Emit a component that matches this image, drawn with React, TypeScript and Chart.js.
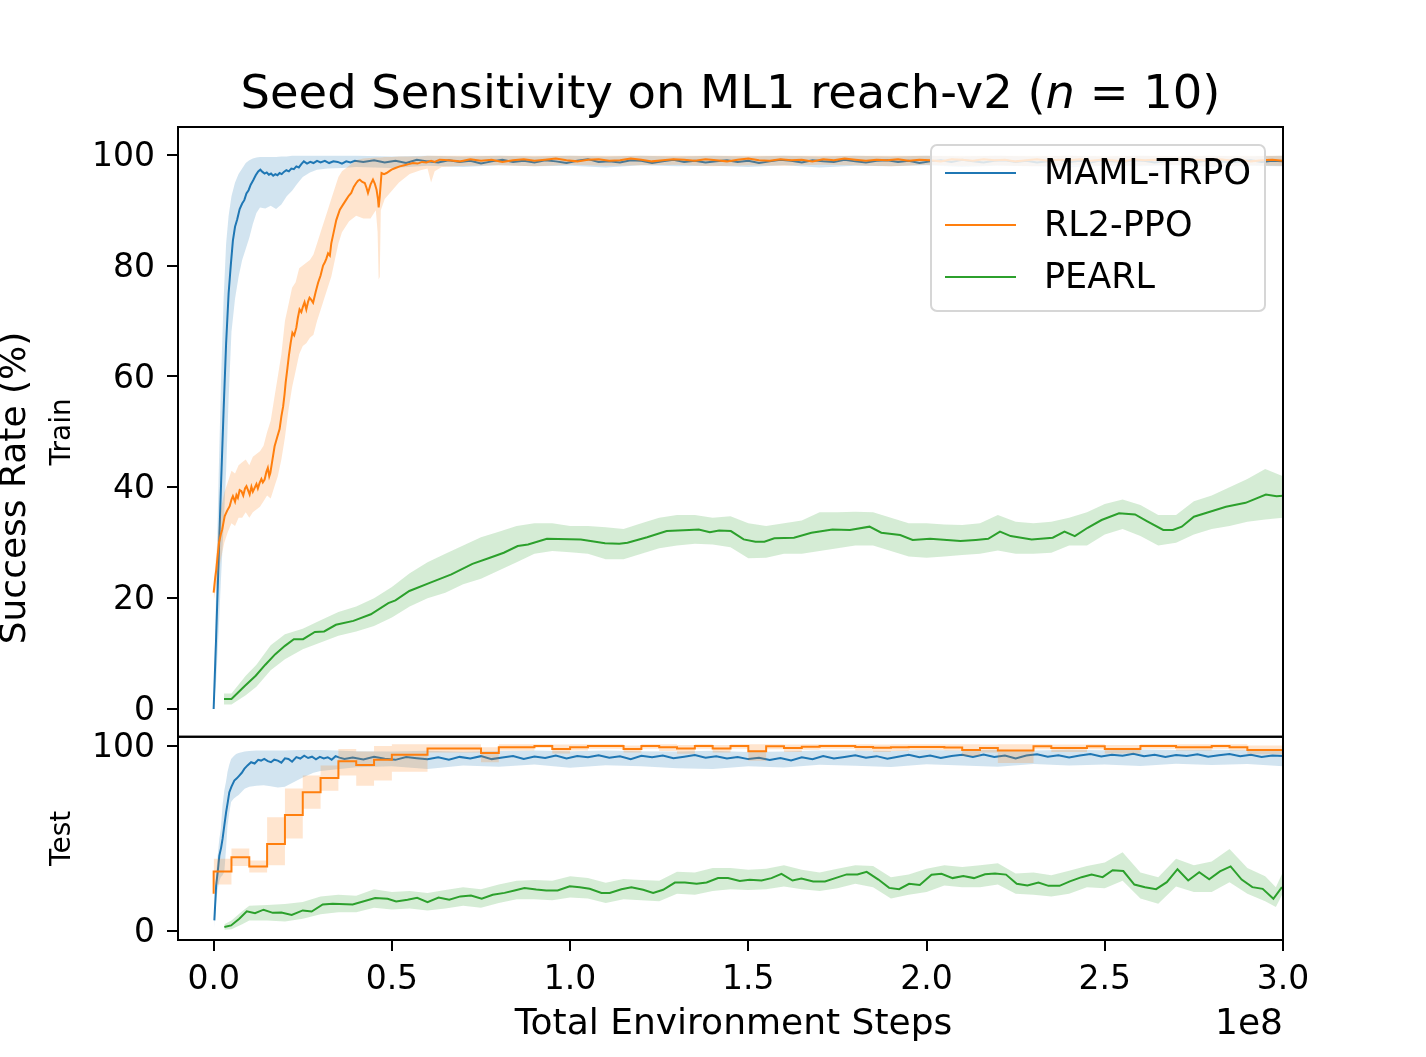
import React, { useEffect, useRef } from 'react';
import { Chart, registerables } from 'chart.js';

Chart.register(...registerables);

// ---------------- text ----------------
const TITLE_PREFIX = 'Seed Sensitivity on ML1 reach-v2 (';
const TITLE_VAR = 'n';
const TITLE_SUFFIX = ' = 10)';
const Y_LABEL = 'Success Rate (%)';
const TRAIN_LABEL = 'Train';
const TEST_LABEL = 'Test';
const X_LABEL = 'Total Environment Steps';
const X_OFFSET_LABEL = '1e8';
const SERIES_NAMES = ['MAML-TRPO', 'RL2-PPO', 'PEARL'];

// ---------------- ticks ----------------
const X_TICKS = [0, 0.5, 1.0, 1.5, 2.0, 2.5, 3.0];
const TRAIN_Y_TICKS = [0, 20, 40, 60, 80, 100];
const TEST_Y_TICKS = [0, 100];

// ---------------- shared tail steps (x in units of 1e8) ----------------
const TAIL_X = [
  0.66, 0.69, 0.72, 0.75, 0.78, 0.81, 0.84, 0.87, 0.90, 0.93,
  0.96, 0.99, 1.02, 1.05, 1.08, 1.11, 1.14, 1.17, 1.20, 1.23,
  1.26, 1.29, 1.32, 1.35, 1.38, 1.41, 1.44, 1.47, 1.50, 1.53,
  1.56, 1.59, 1.62, 1.65, 1.68, 1.71, 1.74, 1.77, 1.80, 1.83,
  1.86, 1.89, 1.92, 1.95, 1.98, 2.01, 2.04, 2.07, 2.10, 2.13,
  2.16, 2.19, 2.22, 2.25, 2.28, 2.31, 2.34, 2.37, 2.40, 2.43,
  2.46, 2.49, 2.52, 2.55, 2.58, 2.61, 2.64, 2.67, 2.70, 2.73,
  2.76, 2.79, 2.82, 2.85, 2.88, 2.91, 2.94, 2.97, 3.00,
];

// ---------------- MAML-TRPO train ----------------
const MAML_TRAIN_HEAD_X = [
  0, 0.007, 0.014, 0.021, 0.028, 0.035, 0.042, 0.048, 0.054, 0.060,
  0.066, 0.073, 0.080, 0.086, 0.092, 0.098, 0.104, 0.111, 0.118, 0.125,
  0.131, 0.137, 0.143, 0.149, 0.155, 0.161, 0.167, 0.173, 0.179, 0.185,
  0.191, 0.197, 0.204, 0.211, 0.218, 0.225, 0.232, 0.239, 0.246, 0.253,
  0.262, 0.271, 0.280, 0.290, 0.300, 0.312, 0.324, 0.336, 0.348, 0.360,
  0.372, 0.384, 0.396, 0.42, 0.45, 0.48, 0.51, 0.54, 0.57, 0.60, 0.63,
];
const MAML_TRAIN_HEAD = [
  0, 13, 27, 41, 54, 66, 75, 80, 84.5, 87,
  88.3, 90.2, 91.2, 91.8, 93.0, 93.6, 94.6, 95.4, 96.3, 97.0,
  97.3, 96.9, 96.6, 96.8, 96.4, 96.6, 96.2, 96.5, 96.3, 96.7,
  96.5, 96.9, 97.2, 97.0, 97.5, 97.4, 97.9, 97.7, 98.3, 98.8,
  98.4, 98.7, 98.5, 98.9, 98.6, 98.9, 98.5, 98.8, 98.7, 98.4,
  98.8, 98.6, 98.9, 98.7, 99.0, 98.6, 98.9, 98.5, 99.1, 98.8, 98.6,
];
const MAML_TRAIN_TAIL = [
  99.0, 98.7,
  98.9, 98.4, 98.8, 99.1, 98.7, 98.9, 98.6, 99.0, 98.8, 98.5,
  98.9, 99.2, 98.7, 98.8, 98.6, 99.0, 98.9, 98.5, 98.8, 99.1,
  98.7, 98.9, 98.6, 98.8, 99.0, 98.7, 98.9, 98.5, 98.8, 99.1,
  98.9, 98.6, 99.0, 98.8, 98.7, 99.1, 98.8, 98.6, 98.9, 99.0,
  98.7, 98.9, 98.5, 98.8, 99.0, 98.7, 99.1, 98.8, 98.6, 98.9,
  99.0, 98.7, 98.9, 98.6, 98.8, 99.1, 98.7, 98.9, 98.6, 99.0,
  98.8, 98.7, 99.0, 98.9, 98.6, 98.8, 99.1, 98.8, 98.7, 99.0,
  98.9, 98.6, 98.8, 99.0, 98.7, 98.9, 98.8,
];
const MAML_TRAIN_BAND_X = [
  0, 0.007, 0.014, 0.021, 0.028, 0.035, 0.042, 0.05, 0.06, 0.07,
  0.08, 0.09, 0.10, 0.11, 0.12, 0.13, 0.145, 0.16, 0.175, 0.19,
  0.205, 0.22, 0.235, 0.25, 0.27, 0.29, 0.32, 0.36, 0.40, 0.5,
  0.6, 0.7, 0.8, 0.9, 1.0, 1.1, 1.2, 1.3, 1.4, 1.5,
  1.6, 1.7, 1.8, 1.9, 2.0, 2.1, 2.2, 2.3, 2.4, 2.5,
  2.6, 2.7, 2.8, 2.9, 3.0,
];
const MAML_TRAIN_LO = [
  0, 5, 14, 24, 33, 43, 56, 68, 74, 78,
  81, 83, 85, 87.5, 89.5, 90.5, 90.3, 90.8, 90.2, 91.0,
  92.5, 93.5, 94.8, 96.0, 96.8, 97.3, 97.5, 97.6, 97.8, 97.6,
  98.0, 97.8, 98.1, 97.9, 98.0, 97.7, 98.1, 97.9, 98.0, 97.8,
  98.1, 97.7, 98.0, 97.9, 98.1, 97.8, 98.0, 97.9, 97.7, 98.0,
  97.9, 98.1, 97.8, 98.0, 97.9,
];
const MAML_TRAIN_HI = [
  0, 22, 42, 60, 74, 84, 89, 92.5, 95, 96.5,
  97.5, 98.5, 99, 99.3, 99.5, 99.6, 99.6, 99.6, 99.6, 99.7,
  99.7, 99.8, 99.8, 99.8, 99.8, 99.8, 99.8, 99.8, 99.8, 99.7,
  99.8, 99.7, 99.8, 99.7, 99.8, 99.7, 99.8, 99.7, 99.8, 99.7,
  99.8, 99.7, 99.8, 99.7, 99.8, 99.7, 99.8, 99.7, 99.8, 99.7,
  99.8, 99.7, 99.8, 99.7, 99.8,
];

// ---------------- RL2-PPO train ----------------
const RL2_TRAIN_HEAD_X = [
  0, 0.004, 0.0075, 0.011, 0.015, 0.02, 0.024, 0.031, 0.038, 0.045,
  0.05, 0.054, 0.06, 0.064, 0.068, 0.073, 0.078, 0.083, 0.088, 0.092,
  0.097, 0.101, 0.106, 0.11, 0.115, 0.12, 0.124, 0.129, 0.134, 0.138,
  0.143, 0.148, 0.152, 0.156, 0.159, 0.165, 0.171, 0.178, 0.185, 0.19,
  0.195, 0.199, 0.202, 0.207, 0.211, 0.216, 0.221, 0.226, 0.232, 0.236,
  0.241, 0.246, 0.251, 0.255, 0.26, 0.265, 0.269, 0.274, 0.279, 0.286,
  0.293, 0.3, 0.307, 0.312, 0.316, 0.321, 0.326, 0.33, 0.335, 0.344,
  0.354, 0.363, 0.372, 0.379, 0.386, 0.393, 0.4, 0.405, 0.41, 0.417,
  0.424, 0.429, 0.433, 0.44, 0.447, 0.452, 0.457, 0.461, 0.463, 0.466,
  0.471, 0.478, 0.485, 0.492, 0.499, 0.51, 0.522, 0.535, 0.547, 0.559,
  0.572, 0.585, 0.597, 0.61, 0.62, 0.634,
];
const RL2_TRAIN_HEAD = [
  21.0, 23.5, 25.2, 27.5, 30.0, 31.5, 32.4, 34.8, 35.8, 36.6,
  37.8, 38.4, 37.4, 38.6, 38.1, 39.5, 39.3, 38.5, 39.8, 40.2,
  39.4, 38.7, 40.1, 39.2, 39.9, 40.6, 39.8, 40.8, 41.5, 40.9,
  41.4, 42.8, 43.5, 42.0, 42.6, 45.0, 47.4, 49.0, 50.5, 52.8,
  54.6, 56.8, 58.9, 61.5, 63.7, 66.0, 67.9, 67.4, 68.8, 70.5,
  72.1, 71.6, 72.7, 73.4, 72.1, 73.5, 74.2, 73.8, 73.3, 75.2,
  76.9, 78.2, 80.0, 80.6, 81.2, 82.2, 81.8, 84.0, 85.5, 88.2,
  90.1, 91.0, 91.9, 92.6, 93.1, 94.2, 94.9, 95.3, 95.5, 95.1,
  94.9, 94.0, 93.1, 94.6, 95.5, 94.8, 93.7, 92.0, 90.5, 92.5,
  96.7, 96.5, 96.7, 97.0, 97.3, 97.6, 97.9, 98.1, 98.3, 98.5,
  98.4, 98.7, 98.6, 98.9, 98.7, 99.1,
];
const RL2_TRAIN_TAIL = [
  99.0, 98.8, 99.2, 98.9, 99.1, 98.7, 99.0, 99.2, 98.9, 99.1,
  99.3, 99.0, 98.8, 99.1, 99.2, 98.9, 99.0, 99.3, 99.1, 98.8,
  99.0, 99.2, 99.1, 98.9, 99.2, 99.0, 98.8, 99.1, 99.3, 99.0,
  98.9, 99.2, 99.0, 99.1, 98.8, 99.2, 99.0, 99.3, 99.1, 98.9,
  99.1, 99.0, 99.2, 98.9, 99.1, 99.0, 98.8, 99.2, 99.1, 98.9,
  99.2, 99.0, 99.1, 98.8, 99.0, 99.2, 98.9, 99.1, 99.0, 99.2,
  98.9, 99.1, 99.0, 98.8, 99.2, 99.0, 99.1, 98.9, 99.2, 99.0,
  99.1, 98.9, 99.2, 99.0, 99.1, 98.8, 99.0, 99.1, 98.9,
];
const RL2_TRAIN_BAND_X = [
  0, 0.01, 0.02, 0.03, 0.04, 0.05, 0.06, 0.07, 0.08, 0.09,
  0.10, 0.11, 0.12, 0.13, 0.14, 0.15, 0.16, 0.17, 0.18, 0.19,
  0.20, 0.21, 0.22, 0.23, 0.24, 0.25, 0.26, 0.27, 0.28, 0.29,
  0.30, 0.31, 0.32, 0.33, 0.34, 0.35, 0.36, 0.38, 0.40, 0.42,
  0.44, 0.455, 0.46, 0.463, 0.466, 0.469, 0.48, 0.50, 0.52, 0.55,
  0.58, 0.60, 0.61, 0.62, 0.64, 0.7, 0.8, 0.9, 1.0, 1.1,
  1.2, 1.3, 1.4, 1.5, 1.6, 1.7, 1.8, 1.9, 2.0, 2.1,
  2.2, 2.3, 2.4, 2.5, 2.6, 2.7, 2.8, 2.9, 3.0,
];
const RL2_TRAIN_LO = [
  19.5, 23, 27, 30, 32, 33.5, 33, 34.5, 34.5, 35.5,
  34.5, 35.5, 36, 36.5, 37.5, 38.5, 38, 40, 42, 45,
  49, 54, 58, 61, 64, 65.5, 66, 67, 67.5, 70,
  72, 74, 76, 78, 81, 84, 86, 88, 89, 88.5,
  88.5, 90, 86, 77.5, 78, 90, 92, 93.5, 95, 96.5,
  97.2, 97.5, 95.0, 97.0, 97.8, 98.0, 98.1, 97.9, 98.2, 98.0,
  98.1, 98.2, 97.9, 98.1, 98.0, 98.2, 98.1, 97.9, 98.2, 98.0,
  98.1, 97.9, 98.2, 98.0, 98.1, 98.2, 97.9, 98.1, 98.0,
];
const RL2_TRAIN_HI = [
  22.5, 30, 36, 39, 41, 43, 42.5, 44, 44.5, 45,
  44, 45.5, 46, 46.5, 47.5, 50, 52, 56, 60, 64,
  70, 73, 76, 77, 79.5, 80, 80.5, 81, 82, 84,
  86, 88, 90, 92, 94, 96, 97, 98, 99, 99.3,
  99.4, 99.5, 99.5, 99.5, 99.5, 99.5, 99.6, 99.6, 99.7, 99.7,
  99.7, 99.8, 99.8, 99.8, 99.8, 99.8, 99.8, 99.8, 99.8, 99.8,
  99.8, 99.8, 99.8, 99.8, 99.8, 99.8, 99.8, 99.8, 99.8, 99.8,
  99.8, 99.8, 99.8, 99.8, 99.8, 99.8, 99.8, 99.8, 99.8,
];

// ---------------- PEARL train ----------------
const PEARL_TRAIN_X = [
  0.029, 0.05, 0.088, 0.118, 0.145, 0.173, 0.2, 0.225, 0.251, 0.284,
  0.31, 0.343, 0.392, 0.441, 0.49, 0.51, 0.549, 0.608, 0.667, 0.726,
  0.775, 0.814, 0.853, 0.882, 0.935, 1.03, 1.098, 1.138, 1.161, 1.216,
  1.271, 1.334, 1.361, 1.392, 1.418, 1.451, 1.487, 1.52, 1.545, 1.573,
  1.628, 1.677, 1.736, 1.785, 1.84, 1.873, 1.926, 1.961, 2.01, 2.095,
  2.138, 2.173, 2.206, 2.236, 2.295, 2.354, 2.387, 2.416, 2.452, 2.491,
  2.54, 2.585, 2.618, 2.664, 2.691, 2.716, 2.75, 2.795, 2.84, 2.895,
  2.952, 2.982, 3.0,
];
const PEARL_TRAIN = [
  1.8, 1.8, 4.2, 6.0, 8.0, 9.9, 11.4, 12.6, 12.6, 13.9,
  14.0, 15.2, 15.9, 17.1, 19.1, 19.6, 21.3, 22.8, 24.3, 26.2,
  27.3, 28.2, 29.4, 29.7, 30.7, 30.6, 29.9, 29.8, 30.0, 31.0,
  32.1, 32.3, 32.4, 31.9, 32.2, 32.1, 30.6, 30.2, 30.2, 30.8,
  30.9, 31.8, 32.4, 32.3, 32.9, 31.8, 31.4, 30.5, 30.7, 30.3,
  30.5, 30.7, 32.0, 31.2, 30.6, 30.9, 32.0, 31.2, 32.7, 34.1,
  35.3, 35.1, 33.9, 32.3, 32.3, 32.9, 34.7, 35.6, 36.5, 37.2,
  38.7, 38.4, 38.5,
];
const PEARL_TRAIN_BAND_X = [
  0.029, 0.05, 0.09, 0.12, 0.16, 0.2, 0.25, 0.3, 0.35, 0.4,
  0.45, 0.5, 0.55, 0.6, 0.65, 0.7, 0.75, 0.8, 0.85, 0.9,
  0.95, 1.0, 1.05, 1.1, 1.15, 1.2, 1.25, 1.3, 1.35, 1.4,
  1.45, 1.5, 1.55, 1.6, 1.65, 1.7, 1.75, 1.8, 1.85, 1.9,
  1.95, 2.0, 2.05, 2.1, 2.15, 2.2, 2.25, 2.3, 2.35, 2.4,
  2.45, 2.5, 2.55, 2.6, 2.65, 2.7, 2.75, 2.8, 2.85, 2.9,
  2.95, 3.0,
];
const PEARL_TRAIN_LO = [
  0.8, 0.8, 2.5, 4, 7, 9, 10.8, 12, 13.2, 14,
  15, 16.5, 18.5, 20, 21, 22.5, 23.5, 25, 26.5, 28,
  28.5, 28.3, 28, 27, 27, 28, 29, 29.5, 29.8, 29.7,
  29.2, 27.2, 27.3, 28, 28, 28.5, 29, 29.5, 29.5, 28.5,
  27.5, 27.3, 27.5, 27.8, 28, 28.6, 28, 28, 28.2, 29.5,
  29.5, 31.5, 32.5, 31.2, 29.5, 30, 31.5, 32.5, 33, 33.8,
  34.2, 34.5,
];
const PEARL_TRAIN_HI = [
  2.8, 2.8, 6, 8, 11.5, 13.5, 14.5, 16, 17.5, 18.5,
  20, 22, 24.5, 26.5, 28, 29.5, 31, 32, 33, 33.5,
  33.5, 33, 33, 32.8, 32.5, 33.5, 34.5, 35, 35, 34.5,
  34.8, 33.5, 33, 33.5, 34, 35.5, 35.5, 35.6, 35.5, 34.5,
  33.5, 33.5, 33.3, 33.2, 33.5, 35, 33.8, 33.5, 33.8, 34.5,
  35.5, 37, 37.8, 36.8, 35, 35, 37.5, 38.5, 40, 41.5,
  43.3, 42,
];

// ---------------- MAML-TRPO test ----------------
const MAML_TEST_HEAD_X = [
  0.002, 0.007, 0.012, 0.016, 0.021, 0.025, 0.03, 0.035, 0.04, 0.044,
  0.05, 0.058, 0.065, 0.072, 0.079, 0.086, 0.095, 0.105, 0.115, 0.125,
  0.133, 0.142, 0.152, 0.161, 0.17, 0.18, 0.19, 0.2, 0.21, 0.22,
  0.232, 0.243, 0.254, 0.265, 0.276, 0.287, 0.298, 0.309, 0.32, 0.331,
  0.342, 0.353, 0.367, 0.39, 0.42, 0.45, 0.48, 0.51, 0.54, 0.57,
  0.6, 0.63,
];
const MAML_TEST_HEAD = [
  5.6, 24.5, 33, 40.7, 45, 49.7, 57, 64.2, 70, 75,
  78, 81.3, 82.5, 84, 85.5, 87.6, 89.5, 91.2, 90.5, 92.5,
  92.1, 93, 91.8, 91.2, 92.6, 92.1, 91, 93.3, 93, 91.5,
  94, 93.2, 94.8, 93.5, 94.2, 92.8, 94.1, 93.3, 93.9, 92.6,
  94.5, 93.7, 93, 93.8, 92.7, 94.2, 93.1, 92.5, 94.0, 93.4,
  92.8, 93.9,
];
const MAML_TEST_TAIL = [
  92.6, 94.1, 93.2, 94.5, 92.9, 93.8, 94.6, 93.0, 94.3, 93.5,
  94.8, 93.3, 94.6, 93.9, 95.0, 93.6, 94.4, 92.8, 94.7, 93.9,
  94.9, 93.4, 94.2, 95.1, 93.7, 94.5, 93.2, 94.0, 92.9, 93.6,
  92.4, 93.5, 92.2, 93.9, 92.8, 94.6, 93.3, 94.1, 95.0, 93.6,
  94.5, 93.1, 94.2, 95.3, 93.9, 94.8, 93.5, 94.6, 95.2, 94.0,
  95.4, 94.1, 94.9, 93.3, 94.8, 95.5, 94.2, 95.0, 93.8, 94.9,
  95.6, 94.3, 95.2, 94.7, 95.8, 94.4, 95.3, 94.0, 95.1, 94.6,
  95.5, 94.2, 95.0, 95.7, 94.5, 95.3, 94.1, 94.9, 94.6,
];
const MAML_TEST_BAND_X = [
  0.002, 0.007, 0.011, 0.016, 0.02, 0.025, 0.03, 0.035, 0.039, 0.044,
  0.049, 0.056, 0.063, 0.07, 0.087, 0.1, 0.12, 0.14, 0.16, 0.18,
  0.2, 0.22, 0.25, 0.28, 0.3, 0.4, 0.5, 0.6, 0.7, 0.8,
  0.9, 1.0, 1.1, 1.2, 1.3, 1.4, 1.5, 1.6, 1.7, 1.8,
  1.9, 2.0, 2.1, 2.2, 2.3, 2.4, 2.5, 2.6, 2.7, 2.8,
  2.9, 3.0,
];
const MAML_TEST_LO = [
  2, 15, 22, 27, 29, 30, 32, 45, 57, 64,
  69.7, 71.5, 72.5, 73.5, 76.8, 78, 78.5, 78.8, 78.2, 77.5,
  78, 80, 83, 85.5, 86.5, 88.5, 89.0, 87.5, 89.5, 88.8,
  90.0, 88.2, 89.6, 89.1, 88.0, 87.6, 89.0, 88.4, 89.8, 89.3,
  88.6, 90.1, 89.4, 88.8, 90.3, 89.5, 90.0, 89.2, 90.4, 89.7,
  90.2, 89.0,
];
const MAML_TEST_HI = [
  9, 30, 40, 50, 55, 68, 76, 81, 86, 90,
  93, 94.5, 95.7, 96.2, 97, 97.3, 97.5, 97.5, 97.6, 97.6,
  97.6, 97.7, 97.8, 97.8, 97.8, 97.2, 97.0, 97.4, 96.9, 97.3,
  97.5, 97.1, 97.6, 97.2, 97.0, 97.4, 96.8, 97.0, 97.5, 97.6,
  97.3, 97.8, 97.5, 97.9, 97.6, 98.0, 97.7, 98.1, 97.8, 98.0,
  97.7, 97.9,
];

// ---------------- RL2-PPO test (evaluated every 5e6 steps) ----------------
const RL2_TEST_X = [
  0, 0.05, 0.1, 0.15, 0.2, 0.25, 0.3, 0.35, 0.4, 0.45,
  0.5, 0.55, 0.6, 0.65, 0.7, 0.75, 0.8, 0.85, 0.9, 0.95,
  1.0, 1.05, 1.1, 1.15, 1.2, 1.25, 1.3, 1.35, 1.4, 1.45,
  1.5, 1.55, 1.6, 1.65, 1.7, 1.75, 1.8, 1.85, 1.9, 1.95,
  2.0, 2.05, 2.1, 2.15, 2.2, 2.25, 2.3, 2.35, 2.4, 2.45,
  2.5, 2.55, 2.6, 2.65, 2.7, 2.75, 2.8, 2.85, 2.9, 2.95,
  3.0,
];
const RL2_TEST = [
  20.0, 32.1, 39.8, 34.8, 47.0, 62.7, 75.0, 82.7, 91.7, 89.7,
  92.6, 95.3, 95.3, 98.7, 98.7, 98.7, 96.2, 99.3, 99.3, 100,
  98.4, 99.3, 100, 100, 98.4, 100, 99.3, 98.6, 100, 98.7,
  100, 97.1, 99.8, 98.9, 99.6, 100, 100, 99.5, 99.0, 99.3,
  99.5, 99.5, 99.2, 97.8, 98.9, 97.5, 97.5, 99.8, 98.9, 98.9,
  99.8, 98.4, 98.4, 100, 100, 99.3, 99.3, 100, 99.3, 97.8,
  97.8,
];
const RL2_TEST_LO = [
  17, 25, 35, 31.5, 35.5, 50, 66, 75.8, 84, 78.5,
  81.3, 86, 86, 96.5, 96.5, 96.5, 91.2, 97.5, 97.5, 99,
  96, 97.5, 98.5, 98.5, 96.5, 98.5, 97.3, 95.8, 98.5, 96.5,
  98.5, 92, 98.3, 96.8, 98, 98.5, 98.5, 97.5, 96.8, 97.3,
  97.8, 97.8, 97.5, 94.6, 96.5, 90.8, 90.8, 98.2, 96.8, 96.8,
  98.2, 96, 96, 98.5, 98.5, 97.5, 97.5, 98.5, 97.5, 95.5,
  95.5,
];
const RL2_TEST_HI = [
  23, 39, 44.5, 38, 61.5, 77, 84, 89.4, 98.4, 97,
  100, 101, 101, 101, 101, 101, 99.3, 101, 101, 101,
  100.8, 101, 101, 101, 100.2, 101, 101, 100.5, 101, 100.6,
  101, 101, 101, 100.8, 101, 101, 101, 101, 100.8, 101,
  101, 101, 100.9, 101, 100.8, 101, 101, 101, 100.8, 100.8,
  101, 100.6, 100.6, 101, 101, 101, 101, 101, 101, 100.3,
  100.3,
];

// ---------------- PEARL test ----------------
const PEARL_TEST_X = [
  0.03, 0.049, 0.072, 0.093, 0.116, 0.14, 0.166, 0.19, 0.219, 0.25,
  0.275, 0.306, 0.334, 0.39, 0.453, 0.488, 0.512, 0.544, 0.571, 0.6,
  0.631, 0.661, 0.692, 0.722, 0.752, 0.783, 0.816, 0.844, 0.872, 0.905,
  0.933, 0.965, 0.999, 1.027, 1.055, 1.088, 1.111, 1.144, 1.172, 1.205,
  1.233, 1.261, 1.294, 1.322, 1.355, 1.383, 1.415, 1.443, 1.476, 1.504,
  1.537, 1.565, 1.593, 1.624, 1.649, 1.682, 1.715, 1.746, 1.776, 1.806,
  1.832, 1.865, 1.895, 1.923, 1.951, 1.981, 2.014, 2.042, 2.073, 2.103,
  2.133, 2.164, 2.192, 2.223, 2.253, 2.283, 2.314, 2.342, 2.373, 2.402,
  2.435, 2.463, 2.494, 2.522, 2.552, 2.583, 2.613, 2.644, 2.674, 2.704,
  2.734, 2.765, 2.793, 2.823, 2.853, 2.884, 2.914, 2.943, 2.973, 2.997,
];
const PEARL_TEST = [
  2.0, 2.9, 6.5, 10.5, 9.5, 11.4, 9.7, 9.9, 8.6, 11.0,
  10.4, 14.2, 14.6, 14.2, 17.7, 17.3, 15.9, 16.8, 17.8, 15.5,
  18.0, 16.8, 18.6, 19.1, 17.3, 19.5, 20.5, 21.8, 23.1, 22.3,
  21.8, 21.8, 24.1, 23.6, 22.7, 20.5, 20.5, 22.5, 23.6, 22.2,
  20.5, 22.2, 26.1, 26.1, 25.4, 26.1, 28.5, 28.5, 27.0, 27.6,
  27.2, 28.5, 30.8, 27.2, 28.3, 26.7, 26.7, 28.6, 30.5, 30.5,
  31.9, 27.7, 23.2, 22.5, 25.4, 24.8, 30.3, 30.8, 28.5, 29.6,
  28.5, 30.6, 31.0, 30.4, 25.4, 24.5, 26.1, 24.3, 24.3, 26.7,
  29.0, 30.4, 29.0, 32.8, 32.3, 25.0, 23.6, 22.5, 26.3, 33.3,
  27.2, 31.7, 27.9, 32.1, 34.8, 27.7, 23.6, 22.7, 17.3, 23.6,
];
const PEARL_TEST_BAND_X = [
  0.03, 0.05, 0.08, 0.1, 0.15, 0.2, 0.25, 0.3, 0.35, 0.4,
  0.45, 0.5, 0.55, 0.6, 0.65, 0.7, 0.75, 0.8, 0.85, 0.9,
  0.95, 1.0, 1.05, 1.1, 1.15, 1.2, 1.25, 1.3, 1.35, 1.4,
  1.45, 1.5, 1.55, 1.6, 1.65, 1.7, 1.75, 1.8, 1.85, 1.9,
  1.95, 2.0, 2.05, 2.1, 2.15, 2.2, 2.25, 2.3, 2.35, 2.4,
  2.45, 2.5, 2.55, 2.6, 2.65, 2.7, 2.75, 2.8, 2.85, 2.9,
  2.95, 2.98, 3.0,
];
const PEARL_TEST_LO = [
  0.5, 0.8, 3.5, 5.5, 5.5, 5, 6.5, 9, 10, 10,
  12.5, 11.5, 12, 11, 12, 13.5, 12.5, 15, 17, 17,
  16.5, 18, 17.5, 15, 17, 16.5, 16, 20, 19.5, 21.5,
  22.5, 22, 22.5, 24, 22.5, 21.5, 23, 25.5, 23.5, 17.5,
  19.5, 21, 24.5, 23.5, 23.5, 25, 20, 19.5, 18.5, 20,
  23.5, 23, 27, 17.5, 14.6, 24, 21, 21, 26.3, 20,
  16, 12.8, 20.5,
];
const PEARL_TEST_HI = [
  3.5, 5.5, 10.5, 13.5, 14, 14.5, 15.5, 18.5, 19.5, 19,
  22.5, 21, 21.5, 20.5, 22, 23.5, 22.5, 25, 27, 27.5,
  27, 29.5, 28.5, 26, 28, 27.5, 27, 32, 31.5, 34,
  34, 33, 33.5, 35.5, 33, 31.5, 33.5, 35.5, 35, 29,
  30.5, 33.5, 35.5, 34.5, 35.5, 36.5, 31, 31.5, 30, 32.5,
  35, 37, 42.5, 31.5, 29, 39, 35.5, 37.5, 44.3, 34,
  29.5, 23.6, 31.9,
];

// ---------------- styling ----------------
const COLORS = ['#1f77b4', '#ff7f0e', '#2ca02c'];
const FILLS = ['rgba(31,119,180,0.2)', 'rgba(255,127,14,0.2)', 'rgba(44,160,44,0.2)'];
const FONT = '"DejaVu Sans", "Liberation Sans", sans-serif';

function pts(xs: number[], ys: number[]) {
  const n = Math.min(xs.length, ys.length);
  const out: { x: number; y: number }[] = [];
  for (let i = 0; i < n; i++) out.push({ x: xs[i], y: ys[i] });
  return out;
}

function bandSets(xs: number[], lo: number[], hi: number[], fill: string, axis: string, order: number, stepped: any = false) {
  const base = { yAxisID: axis, borderWidth: 0, borderColor: 'rgba(0,0,0,0)', pointRadius: 0, order, stepped };
  return [
    { ...base, label: '_lo', data: pts(xs, lo), fill: false },
    { ...base, label: '_hi', data: pts(xs, hi), backgroundColor: fill, fill: '-1' },
  ];
}

function lineSet(xs: number[], ys: number[], color: string, axis: string, order: number, stepped: any = false) {
  return { label: '_line', data: pts(xs, ys), yAxisID: axis, borderColor: color, borderWidth: 2, pointRadius: 0, fill: false, order, stepped };
}

const decorPlugin = {
  id: 'decor',
  afterDraw(chart: any) {
    const { ctx, chartArea } = chart;
    const yTr = chart.scales.yTrain;
    const yTe = chart.scales.yTest;
    const left = chartArea.left;
    const right = chartArea.right;
    ctx.save();

    // legend
    const lw = 334, lh = 166;
    const lx = right - 18 - lw;
    const ly = yTr.top + 18;
    ctx.beginPath();
    if (ctx.roundRect) ctx.roundRect(lx, ly, lw, lh, 6);
    else ctx.rect(lx, ly, lw, lh);
    ctx.fillStyle = 'rgba(255,255,255,0.8)';
    ctx.fill();
    ctx.strokeStyle = '#d6d6d6';
    ctx.lineWidth = 2;
    ctx.stroke();
    ctx.font = `35px ${FONT}`;
    ctx.textAlign = 'left';
    ctx.textBaseline = 'middle';
    SERIES_NAMES.forEach((name, i) => {
      const cy = ly + 28 + i * 52;
      ctx.strokeStyle = COLORS[i];
      ctx.lineWidth = 1.8;
      ctx.beginPath();
      ctx.moveTo(lx + 14, cy);
      ctx.lineTo(lx + 85, cy);
      ctx.stroke();
      ctx.fillStyle = '#000';
      ctx.fillText(name, lx + 113, cy + 2);
    });

    // frames
    ctx.strokeStyle = '#000';
    ctx.lineWidth = 2;
    ctx.strokeRect(left, yTr.top, right - left, yTr.bottom - yTr.top);
    ctx.strokeRect(left, yTe.top, right - left, yTe.bottom - yTe.top);

    // title
    ctx.fillStyle = '#000';
    ctx.textBaseline = 'alphabetic';
    ctx.textAlign = 'left';
    const parts = [
      { t: TITLE_PREFIX, f: `46.4px ${FONT}` },
      { t: TITLE_VAR, f: `italic 46.4px ${FONT}` },
      { t: TITLE_SUFFIX, f: `46.4px ${FONT}` },
    ];
    let total = 0;
    parts.forEach((p) => { ctx.font = p.f; total += ctx.measureText(p.t).width; });
    let tx = (left + right) / 2 - total / 2;
    parts.forEach((p) => { ctx.font = p.f; ctx.fillText(p.t, tx, 108); tx += ctx.measureText(p.t).width; });

    // x label and offset
    ctx.font = `36px ${FONT}`;
    ctx.textAlign = 'center';
    ctx.fillText(X_LABEL, (left + right) / 2 + 3, 1034);
    ctx.textAlign = 'right';
    ctx.fillText(X_OFFSET_LABEL, right, 1034);

    // rotated y labels
    const vtext = (text: string, x: number, y: number, size: number) => {
      ctx.save();
      ctx.translate(x, y);
      ctx.rotate(-Math.PI / 2);
      ctx.font = `${size}px ${FONT}`;
      ctx.textAlign = 'center';
      ctx.textBaseline = 'middle';
      ctx.fillText(text, 0, 0);
      ctx.restore();
    };
    vtext(Y_LABEL, 16, 488, 36);
    vtext(TRAIN_LABEL, 63, (yTr.top + yTr.bottom) / 2, 28);
    vtext(TEST_LABEL, 63, (yTe.top + yTe.bottom) / 2, 28);

    ctx.restore();
  },
};

export default function App() {
  const ref = useRef<HTMLCanvasElement>(null);

  useEffect(() => {
    if (!ref.current) return;
    const datasets: any[] = [
      // train
      ...bandSets(MAML_TRAIN_BAND_X, MAML_TRAIN_LO, MAML_TRAIN_HI, FILLS[0], 'yTrain', 6),
      lineSet([...MAML_TRAIN_HEAD_X, ...TAIL_X], [...MAML_TRAIN_HEAD, ...MAML_TRAIN_TAIL], COLORS[0], 'yTrain', 5),
      ...bandSets(RL2_TRAIN_BAND_X, RL2_TRAIN_LO, RL2_TRAIN_HI, FILLS[1], 'yTrain', 4),
      lineSet([...RL2_TRAIN_HEAD_X, ...TAIL_X], [...RL2_TRAIN_HEAD, ...RL2_TRAIN_TAIL], COLORS[1], 'yTrain', 3),
      ...bandSets(PEARL_TRAIN_BAND_X, PEARL_TRAIN_LO, PEARL_TRAIN_HI, FILLS[2], 'yTrain', 2),
      lineSet(PEARL_TRAIN_X, PEARL_TRAIN, COLORS[2], 'yTrain', 1),
      // test
      ...bandSets(MAML_TEST_BAND_X, MAML_TEST_LO, MAML_TEST_HI, FILLS[0], 'yTest', 6),
      lineSet([...MAML_TEST_HEAD_X, ...TAIL_X], [...MAML_TEST_HEAD, ...MAML_TEST_TAIL], COLORS[0], 'yTest', 5),
      ...bandSets(RL2_TEST_X, RL2_TEST_LO, RL2_TEST_HI, FILLS[1], 'yTest', 4, 'after'),
      lineSet(RL2_TEST_X, RL2_TEST, COLORS[1], 'yTest', 3, 'after'),
      ...bandSets(PEARL_TEST_BAND_X, PEARL_TEST_LO, PEARL_TEST_HI, FILLS[2], 'yTest', 2),
      lineSet(PEARL_TEST_X, PEARL_TEST, COLORS[2], 'yTest', 1),
    ];

    const tickFont = { family: FONT, size: 33 };
    const grid = { display: true, drawOnChartArea: false, drawTicks: true, tickLength: 11, color: '#000', lineWidth: 2 };

    const chart = new Chart(ref.current, {
      type: 'line',
      data: { datasets },
      options: {
        responsive: false,
        animation: false,
        devicePixelRatio: 1,
        events: [],
        layout: { padding: { left: 0, top: 127, right: 143, bottom: 57 } },
        plugins: { legend: { display: false }, tooltip: { enabled: false }, title: { display: false } },
        elements: { line: { tension: 0 } },
        scales: {
          x: {
            type: 'linear',
            min: -0.1,
            max: 3.0,
            afterBuildTicks: (s: any) => { s.ticks = X_TICKS.map((v) => ({ value: v })); },
            afterFit: (s: any) => { s.height = 60; },
            ticks: { font: tickFont, color: '#000', padding: 10, maxRotation: 0, autoSkip: false, callback: (v: any) => Number(v).toFixed(1) },
            grid,
            border: { display: false },
          },
          yTest: {
            type: 'linear',
            position: 'left',
            stack: 'panels',
            stackWeight: 1,
            min: -5,
            max: 105,
            afterBuildTicks: (s: any) => { s.ticks = TEST_Y_TICKS.map((v) => ({ value: v })); },
            afterFit: (s: any) => { s.width = 178; },
            ticks: { font: tickFont, color: '#000', padding: 12, autoSkip: false, labelOffset: 2.5 },
            grid,
            border: { display: false },
          },
          yTrain: {
            type: 'linear',
            position: 'left',
            stack: 'panels',
            stackWeight: 3,
            min: -5,
            max: 105,
            afterBuildTicks: (s: any) => { s.ticks = TRAIN_Y_TICKS.map((v) => ({ value: v })); },
            afterFit: (s: any) => { s.width = 178; },
            ticks: { font: tickFont, color: '#000', padding: 12, autoSkip: false, labelOffset: 2.5 },
            grid,
            border: { display: false },
          },
        } as any,
      },
      plugins: [decorPlugin],
    } as any);

    return () => chart.destroy();
  }, []);

  return (
    <div style={{ position: 'absolute', left: 0, top: 0, width: 1426, height: 1057, background: '#fff' }}>
      <canvas ref={ref} width={1426} height={1057} style={{ display: 'block', width: 1426, height: 1057 }} />
    </div>
  );
}
